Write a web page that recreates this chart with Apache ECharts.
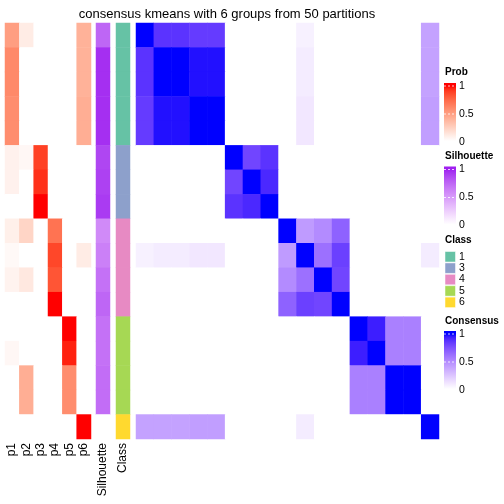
<!DOCTYPE html>
<html><head><meta charset="utf-8">
<script src="https://cdn.jsdelivr.net/npm/echarts@6/dist/echarts.min.js"></script>
<style>html,body{margin:0;padding:0;background:#fff}#c{width:504px;height:504px}</style>
</head><body><div id="c"></div>
<script>
const titleText = 'consensus kmeans with 6 groups from 50 partitions';
const samples = ['s01','s02','s03','s04','s05','s06','s07','s08','s09','s10','s11','s12','s13','s14','s15','s16','s17'];
const probLabels = ['p1','p2','p3','p4','p5','p6'];
const probRows = [
 [0.50,0.10,0,0,0,0.40],
 [0.60,0,0,0,0,0.40],
 [0.60,0,0,0,0,0.40],
 [0.58,0,0,0,0,0.42],
 [0.58,0,0,0,0,0.42],
 [0.07,0.04,0.89,0,0,0],
 [0.07,0,0.93,0,0,0],
 [0,0,1,0,0,0],
 [0.08,0.22,0,0.70,0,0],
 [0.03,0,0,0.87,0,0.10],
 [0.06,0.12,0,0.82,0,0],
 [0,0,0,1,0,0],
 [0,0,0,0,1,0],
 [0.04,0,0,0,0.96,0],
 [0,0.42,0,0,0.58,0],
 [0,0.42,0,0,0.58,0],
 [0,0,0,0,0,1]
];
const silhouette = [0.75,0.96,0.96,0.96,0.96,0.88,0.90,0.92,0.58,0.63,0.70,0.75,0.70,0.70,0.72,0.72,0];
const classes = [1,1,1,1,1,3,3,3,4,4,4,4,5,5,5,5,6];
const classLevels = [1,3,4,5,6];
const consensus = [
 [1,0.87,0.87,0.84,0.84,0,0,0,0,0.06,0,0,0,0,0,0,0.40],
 [0.87,1,1,0.97,0.97,0,0,0,0,0.08,0,0,0,0,0,0,0.40],
 [0.87,1,1,0.97,0.97,0,0,0,0,0.08,0,0,0,0,0,0,0.40],
 [0.84,0.97,0.97,1,1,0,0,0,0,0.10,0,0,0,0,0,0,0.42],
 [0.84,0.97,0.97,1,1,0,0,0,0,0.10,0,0,0,0,0,0,0.42],
 [0,0,0,0,0,1,0.80,0.87,0,0,0,0,0,0,0,0,0],
 [0,0,0,0,0,0.80,1,0.91,0,0,0,0,0,0,0,0,0],
 [0,0,0,0,0,0.87,0.91,1,0,0,0,0,0,0,0,0,0],
 [0,0,0,0,0,0,0,0,1,0.43,0.50,0.68,0,0,0,0,0],
 [0.06,0.08,0.08,0.10,0.10,0,0,0,0.43,1,0.62,0.82,0,0,0,0,0.08],
 [0,0,0,0,0,0,0,0,0.50,0.62,1,0.80,0,0,0,0,0],
 [0,0,0,0,0,0,0,0,0.68,0.82,0.80,1,0,0,0,0,0],
 [0,0,0,0,0,0,0,0,0,0,0,0,1,0.94,0.55,0.55,0],
 [0,0,0,0,0,0,0,0,0,0,0,0,0.94,1,0.55,0.55,0],
 [0,0,0,0,0,0,0,0,0,0,0,0,0.55,0.55,1,1,0],
 [0,0,0,0,0,0,0,0,0,0,0,0,0.55,0.55,1,1,0],
 [0.40,0.40,0.40,0.42,0.42,0,0,0,0,0.08,0,0,0,0,0,0,1]
];
const legendTicks = ['1','0.5','0'];

// ---- LAB colour interpolation (as ComplexHeatmap colorRamp2) ----
function toLin(c){c/=255;return c<=0.04045?c/12.92:Math.pow((c+0.055)/1.055,2.4);}
function toS(c){c=Math.max(0,Math.min(1,c));const v=c<=0.0031308?12.92*c:1.055*Math.pow(c,1/2.4)-0.055;return Math.round(v*255);}
const Xn=0.95047,Yn=1,Zn=1.08883;
function f(t){return t>0.008856?Math.cbrt(t):7.787*t+16/116;}
function fi(t){const t3=t*t*t;return t3>0.008856?t3:(t-16/116)/7.787;}
function hex2lab(h){const r=toLin(parseInt(h.slice(1,3),16)),g=toLin(parseInt(h.slice(3,5),16)),b=toLin(parseInt(h.slice(5,7),16));
 const X=0.4124*r+0.3576*g+0.1805*b,Y=0.2126*r+0.7152*g+0.0722*b,Z=0.0193*r+0.1192*g+0.9505*b;
 const fx=f(X/Xn),fy=f(Y/Yn),fz=f(Z/Zn);return [116*fy-16,500*(fx-fy),200*(fy-fz)];}
function lab2hex(L,a,b){const fy=(L+16)/116,fx=fy+a/500,fz=fy-b/200;
 const X=Xn*fi(fx),Y=Yn*fi(fy),Z=Zn*fi(fz);
 const r=3.2406*X-1.5372*Y-0.4986*Z,g=-0.9689*X+1.8758*Y+0.0415*Z,bb=0.0557*X-0.2040*Y+1.0570*Z;
 return 'rgb('+toS(r)+','+toS(g)+','+toS(bb)+')';}
function labRamp(c0,c1,n){const a=hex2lab(c0),b=hex2lab(c1),out=[];
 for(let i=0;i<n;i++){const t=i/(n-1);out.push(lab2hex(a[0]+(b[0]-a[0])*t,a[1]+(b[1]-a[1])*t,a[2]+(b[2]-a[2])*t));}return out;}
const probColors = labRamp('#ffffff','#ff0000',21);
const silColors = labRamp('#ffffff','#a020f0',21);
const consColors = labRamp('#ffffff','#0000ff',21);
const classColors = ['#66c2a5','#8da0cb','#e78ac3','#a6d854','#ffd92f'];

// ---- data for series ----
const probData=[];probRows.forEach((row,i)=>row.forEach((v,j)=>probData.push([j,i,v])));
const silData=silhouette.map((v,i)=>[0,i,v]);
const classData=classes.map((v,i)=>[0,i,v]);
const consData=[];consensus.forEach((row,i)=>row.forEach((v,j)=>consData.push([j,i,v])));

const FONT='Liberation Sans, Arial, sans-serif';
const TOP=23,H=416;
const grids=[{left:5,width:86},{left:96,width:14},{left:116,width:14},{left:136,width:303}]
 .map(g=>({left:g.left,width:g.width,top:TOP,height:H,containLabel:false}));
const xCats=[probLabels,['Silhouette'],['Class'],samples];
const xAxes=xCats.map((d,i)=>({type:'category',gridIndex:i,data:d,position:'bottom',
 axisLine:{show:false},axisTick:{show:false},splitLine:{show:false},
 axisLabel:{show:i<3,interval:0,rotate:90,margin:4,fontSize:12,color:'#000',fontFamily:FONT}}));
const yAxes=[0,1,2,3].map(i=>({type:'category',gridIndex:i,data:samples,inverse:true,show:false}));
function hm(idx,data){return {type:'heatmap',xAxisIndex:idx,yAxisIndex:idx,data:data,emphasis:{disabled:true},progressive:0};}

// ---- legends drawn as graphics ----
const graphics=[];
const LX=444,BW=12;
function contLegend(title,titleY,barTop,colors){
 graphics.push({type:'text',left:LX+1,top:titleY-6,style:{text:title,font:'bold 10px '+FONT,fill:'#000'}});
 const stops=colors.slice().reverse().map((c,k,arr)=>({offset:(3+55*k/(arr.length-1))/61,color:c}));
 stops.unshift({offset:0,color:colors[colors.length-1]});stops.push({offset:1,color:colors[0]});
 graphics.push({type:'rect',shape:{x:LX,y:barTop,width:BW,height:61},style:{fill:{type:'linear',x:0,y:0,x2:0,y2:1,colorStops:stops}}});
 legendTicks.forEach((t,k)=>{const y=barTop+3+28*k;
  graphics.push({type:'line',shape:{x1:LX,y1:y,x2:LX+BW,y2:y},style:{stroke:'rgba(255,255,255,0.8)',lineWidth:1,lineDash:[2,2]}});
  graphics.push({type:'text',x:LX+15,y:y,style:{text:t,font:'10.5px '+FONT,fill:'#000',textVerticalAlign:'middle',verticalAlign:'middle'}});});
}
contLegend('Prob',73.5,83,probColors);
contLegend('Silhouette',157.3,166.5,silColors);
graphics.push({type:'text',left:LX+1,top:241.7-6,style:{text:'Class',font:'bold 10px '+FONT,fill:'#000'}});
classLevels.forEach((c,k)=>{const y=251.5+11.4*k;
 graphics.push({type:'rect',shape:{x:LX+1,y:y,width:10.5,height:10.5},style:{fill:classColors[k],stroke:'#fff',lineWidth:0.5}});
 graphics.push({type:'text',x:LX+15,y:y+5.3,style:{text:String(c),font:'10.5px '+FONT,fill:'#000',verticalAlign:'middle',textVerticalAlign:'middle'}});});
contLegend('Consensus',322.7,331,consColors);

const chart=echarts.init(document.getElementById('c'),null,{renderer:'canvas'});
chart.setOption({
 animation:false,backgroundColor:'#fff',
 title:{text:titleText,left:222,top:3,textAlign:'center',textStyle:{fontSize:13,fontWeight:'normal',color:'#000',fontFamily:FONT}},
 grid:grids,xAxis:xAxes,yAxis:yAxes,
 visualMap:[
  {type:'continuous',min:0,max:1,show:false,seriesIndex:0,inRange:{color:probColors}},
  {type:'continuous',min:0,max:1,show:false,seriesIndex:1,inRange:{color:silColors}},
  {type:'piecewise',show:false,seriesIndex:2,pieces:classLevels.map((c,k)=>({value:c,color:classColors[k]}))},
  {type:'continuous',min:0,max:1,show:false,seriesIndex:3,inRange:{color:consColors}}
 ],
 series:[hm(0,probData),hm(1,silData),hm(2,classData),hm(3,consData)],
 graphic:graphics
});
</script></body></html>
